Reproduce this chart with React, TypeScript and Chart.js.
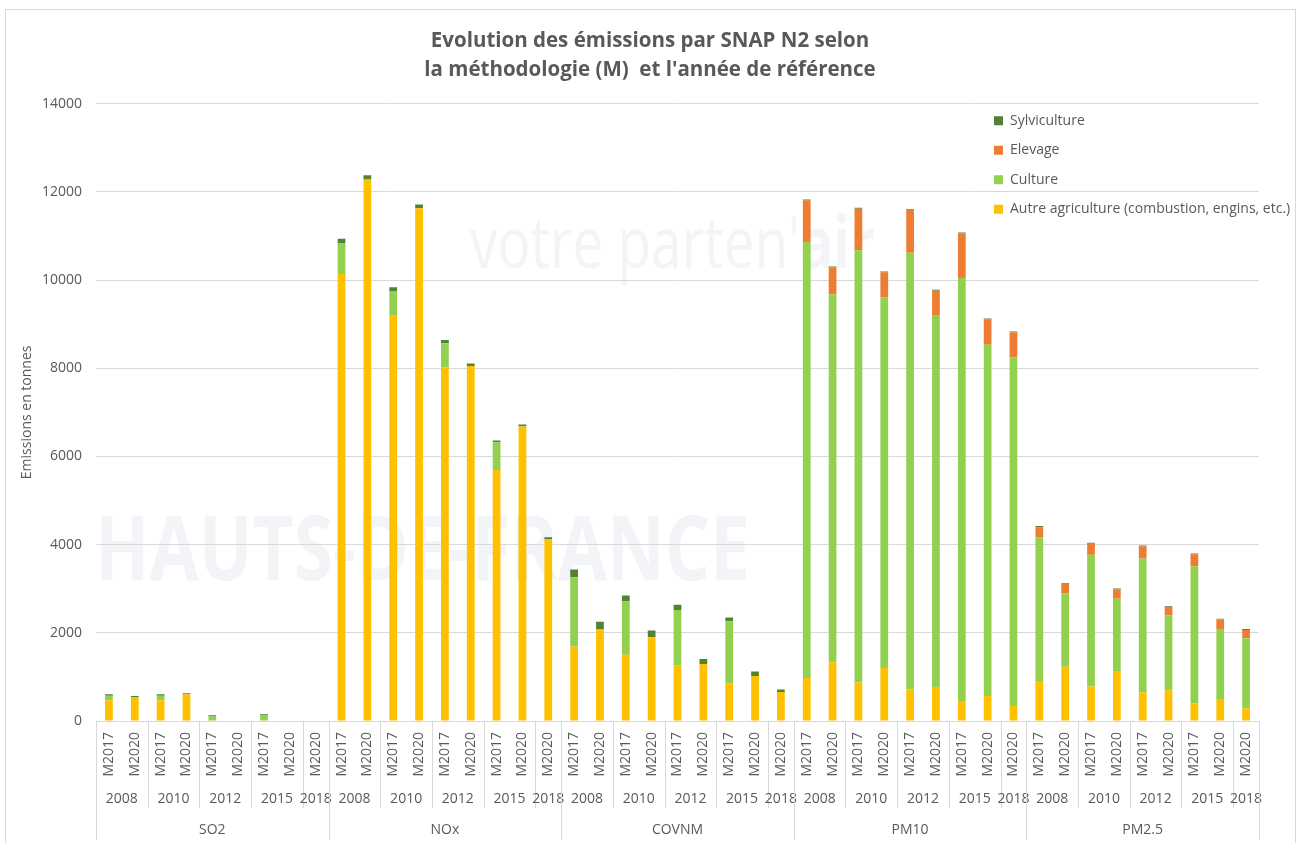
import React, { useEffect, useRef } from 'react';
import { Chart, registerables } from 'chart.js';

Chart.register(...registerables);

// ---- Data ----
const pollutants = ['SO2', 'NOx', 'COVNM', 'PM10', 'PM2.5'];
const years = ['2008', '2010', '2012', '2015', '2018'];
const yearMethods = [
  ['M2017', 'M2020'],
  ['M2017', 'M2020'],
  ['M2017', 'M2020'],
  ['M2017', 'M2020'],
  ['M2020'],
];

const autreAgriculture = [
  470, 545, 470, 605, 0, 0, 0, 0, 0, // SO2
  10140, 12270, 9210, 11630, 8020, 8050, 5690, 6680, 4130, // NOx
  1690, 2075, 1500, 1900, 1255, 1290, 850, 1020, 655, // COVNM
  975, 1335, 875, 1200, 720, 770, 455, 565, 340, // PM10
  890, 1230, 785, 1115, 650, 710, 400, 500, 290, // PM2.5
];
const culture = [
  105, 0, 105, 0, 100, 0, 122, 0, 0,
  700, 10, 540, 0, 550, 0, 630, 0, 0,
  1570, 0, 1210, 0, 1260, 0, 1415, 0, 0,
  9890, 8345, 9800, 8405, 9900, 8420, 9590, 7970, 7905,
  3270, 1665, 2985, 1655, 3035, 1685, 3110, 1585, 1585,
];
const elevage = [
  0, 0, 0, 0, 0, 0, 0, 0, 0,
  0, 0, 0, 0, 0, 0, 0, 0, 0,
  0, 0, 0, 0, 0, 0, 0, 0, 0,
  940, 610, 945, 570, 975, 570, 1015, 575, 570,
  235, 210, 250, 215, 275, 190, 270, 215, 190,
];
const sylviculture = [
  30, 22, 30, 22, 30, 0, 30, 0, 0,
  100, 95, 85, 85, 70, 60, 40, 45, 35,
  175, 175, 135, 150, 120, 115, 85, 100, 60,
  20, 20, 20, 20, 20, 20, 20, 20, 20,
  30, 20, 20, 20, 20, 20, 20, 20, 20,
];

const yTicks = [0, 2000, 4000, 6000, 8000, 10000, 12000, 14000];

const seriesLabels = [
  'Autre agriculture (combustion, engins, etc.)',
  'Culture',
  'Elevage',
  'Sylviculture',
];
const titleLines = [
  'Evolution des émissions par SNAP N2 selon',
  "la méthodologie (M)  et l'année de référence",
];
const yTitle = 'Emissions en tonnes';

const FONT = "'Open Sans', sans-serif";
const TEXT = '#595959';
const GRID = '#d9d9d9';

const backgroundPlugin = {
  id: 'bgFrame',
  beforeDraw(chart: any) {
    const ctx = chart.ctx;
    ctx.save();
    ctx.fillStyle = '#ffffff';
    ctx.fillRect(0, 0, chart.width, chart.height);
    // faint watermark
    ctx.fillStyle = '#f3f4f8';
    ctx.textBaseline = 'alphabetic';
    ctx.textAlign = 'left';
    ctx.font = `bold 90px ${FONT}`;
    const w1 = ctx.measureText('HAUTS-DE-FRANCE').width;
    ctx.save();
    ctx.translate(95, 580);
    ctx.scale(655 / w1, 1);
    ctx.fillText('HAUTS-DE-FRANCE', 0, 0);
    ctx.restore();
    ctx.font = `72px ${FONT}`;
    const part1 = "votre parten'";
    const wa = ctx.measureText(part1).width;
    ctx.font = `bold 72px ${FONT}`;
    const wb = ctx.measureText('air').width;
    const sc = 405 / (wa + wb);
    ctx.save();
    ctx.translate(470, 268);
    ctx.scale(sc, 1);
    ctx.font = `72px ${FONT}`;
    ctx.fillText(part1, 0, 0);
    ctx.font = `bold 72px ${FONT}`;
    ctx.fillText('air', wa, 0);
    ctx.restore();
    // frame
    ctx.strokeStyle = GRID;
    ctx.lineWidth = 1;
    ctx.strokeRect(5.5, 9.5, 1290, 845);
    ctx.restore();
  },
};

const placementPlugin = {
  id: 'placement',
  afterLayout(chart: any) {
    const lg = chart.legend;
    if (lg) {
      lg.left = 978.5;
      lg.top = 98.2;
      lg.right = lg.left + lg.width;
      lg.bottom = chart.chartArea.bottom;
    }
    const tb = chart.titleBlock;
    if (tb) {
      tb.left = 41;
      tb.right = 1259;
      tb.width = tb.right - tb.left;
    }
  },
};

const multiLevelPlugin = {
  id: 'multiLevel',
  afterDraw(chart: any) {
    const x = chart.scales.x;
    const ctx = chart.ctx;
    const area = chart.chartArea;
    const step = x.getPixelForValue(1) - x.getPixelForValue(0);
    ctx.save();
    ctx.strokeStyle = GRID;
    ctx.lineWidth = 1;
    ctx.fillStyle = TEXT;
    ctx.font = `14px ${FONT}`;
    ctx.textAlign = 'center';
    ctx.textBaseline = 'middle';
    const line = (px: number, y1: number, y2: number) => {
      const xx = Math.round(px) + 0.5;
      ctx.beginPath();
      ctx.moveTo(xx, y1);
      ctx.lineTo(xx, y2);
      ctx.stroke();
    };
    let idx = 0;
    pollutants.forEach((p) => {
      const start = idx;
      years.forEach((yr, yi) => {
        const n = yearMethods[yi].length;
        const left = x.getPixelForValue(idx) - step / 2;
        if (yi > 0) line(left, area.bottom, 808);
        const center = (x.getPixelForValue(idx) + x.getPixelForValue(idx + n - 1)) / 2;
        ctx.fillText(yr, center, 799);
        idx += n;
      });
      line(x.getPixelForValue(start) - step / 2, area.bottom, 840);
      ctx.fillText(p, (x.getPixelForValue(start) + x.getPixelForValue(idx - 1)) / 2, 830);
    });
    line(x.getPixelForValue(idx - 1) + step / 2, area.bottom, 840);
    ctx.restore();
  },
};

export default function App() {
  const ref = useRef<HTMLCanvasElement | null>(null);

  useEffect(() => {
    if (!ref.current) return;
    const labels = pollutants.flatMap(() => yearMethods.flat());
    const chart = new Chart(ref.current, {
      type: 'bar',
      data: {
        labels,
        datasets: [
          { label: seriesLabels[0], data: autreAgriculture, backgroundColor: '#FFC000' },
          { label: seriesLabels[1], data: culture, backgroundColor: '#92D050' },
          { label: seriesLabels[2], data: elevage, backgroundColor: '#ED7D31' },
          { label: seriesLabels[3], data: sylviculture, backgroundColor: '#548235' },
        ],
      },
      options: {
        responsive: false,
        animation: false,
        devicePixelRatio: 1,
        datasets: { bar: { barPercentage: 0.3, categoryPercentage: 1, borderWidth: 0 } },
        layout: { padding: { top: 16, left: 0, right: 41, bottom: 0 } },
        scales: {
          x: {
            stacked: true,
            grid: { display: false, drawTicks: false },
            border: { display: true, color: GRID },
            ticks: {
              autoSkip: false,
              maxRotation: 90,
              minRotation: 90,
              padding: 11,
              color: TEXT,
              font: { family: FONT, size: 14 },
            },
            afterFit: (s: any) => { s.height = 122; },
          },
          y: {
            stacked: true,
            min: yTicks[0],
            max: yTicks[yTicks.length - 1],
            ticks: {
              stepSize: yTicks[1] - yTicks[0],
              padding: 14,
              color: TEXT,
              font: { family: FONT, size: 14 },
              callback: (v: any) => String(v),
            },
            grid: { color: GRID, drawTicks: false },
            border: { display: false },
            title: {
              display: true,
              text: yTitle,
              color: TEXT,
              font: { family: FONT, size: 14 },
              padding: { top: 19, bottom: 0 },
            },
            afterFit: (s: any) => { s.width = 96; },
          },
        },
        plugins: {
          title: {
            display: true,
            text: titleLines,
            color: TEXT,
            font: { family: FONT, size: 20.5, weight: 'bold', lineHeight: 1.42 },
            padding: { top: 10.5, bottom: 19 },
          },
          legend: {
            position: 'chartArea' as any,
            align: 'start',
            reverse: true,
            labels: {
              boxWidth: 9,
              boxHeight: 9,
              padding: 15.5,
              color: TEXT,
              font: { family: FONT, size: 14 },
            },
          },
          tooltip: { enabled: false },
        },
      } as any,
      plugins: [backgroundPlugin, placementPlugin, multiLevelPlugin],
    });
    return () => chart.destroy();
  }, []);

  return (
    <div style={{ position: 'absolute', left: 0, top: 0, width: 1300, height: 843 }}>
      <canvas ref={ref} width={1300} height={843} style={{ display: 'block' }} />
    </div>
  );
}
